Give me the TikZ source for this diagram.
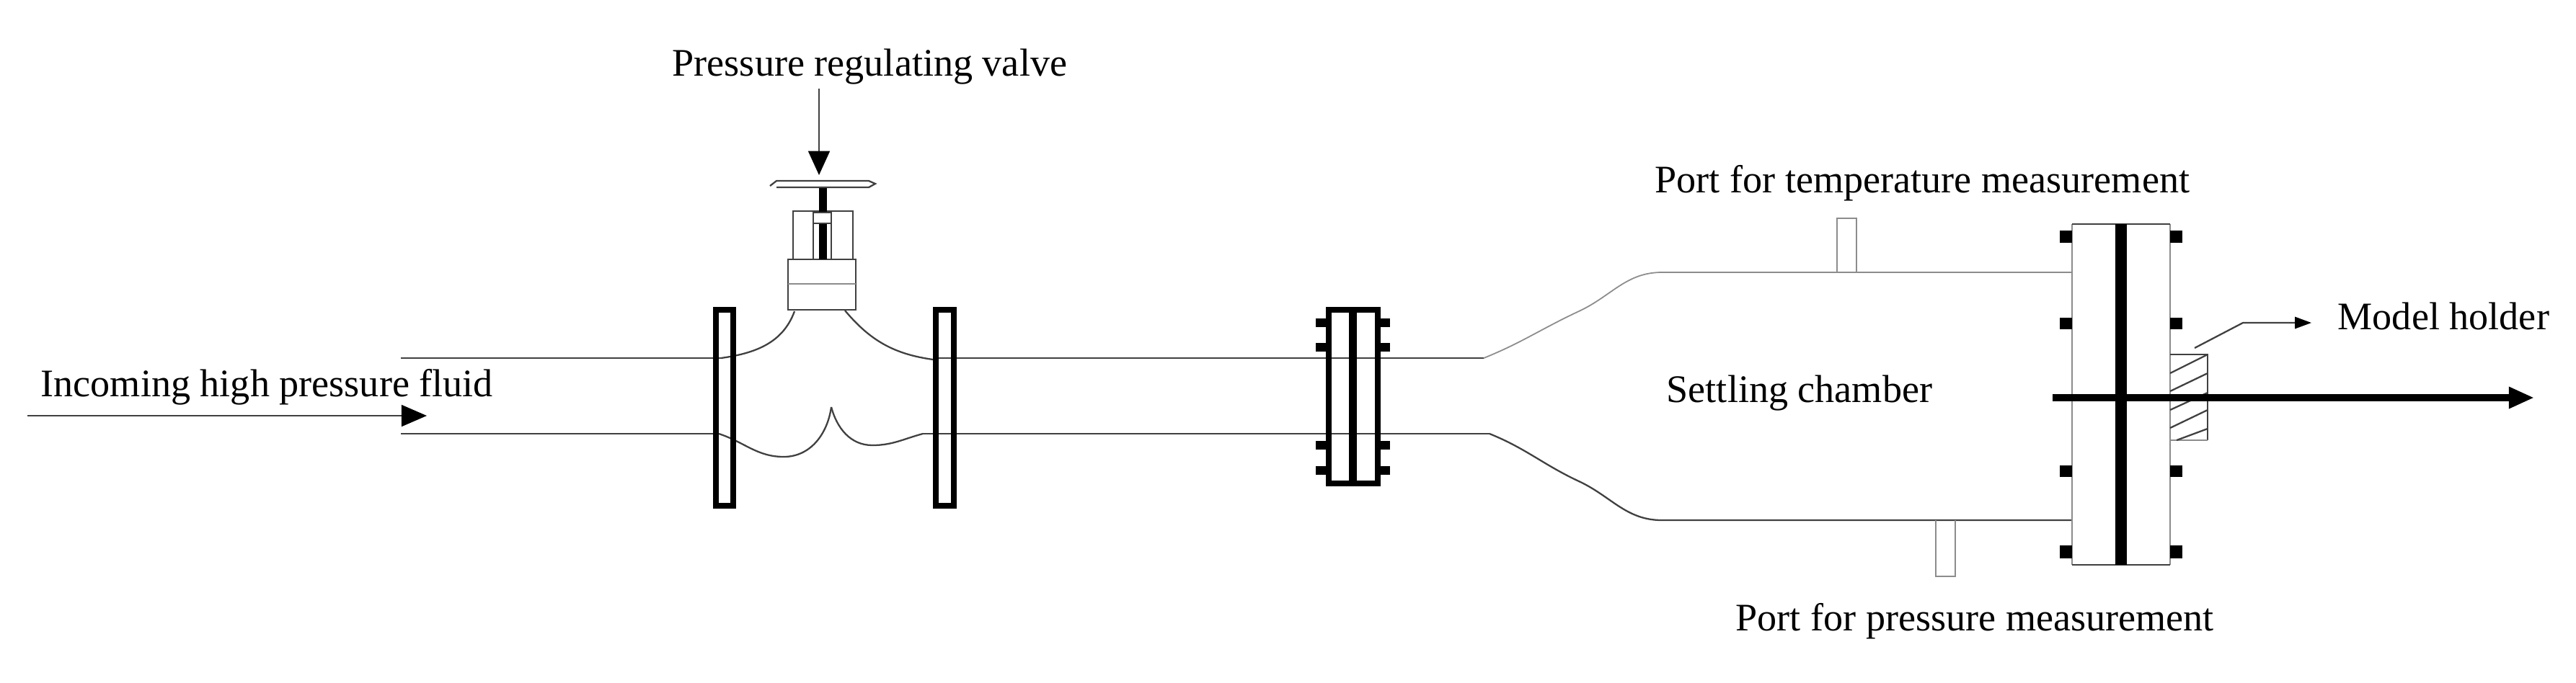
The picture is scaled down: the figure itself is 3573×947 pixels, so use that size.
\documentclass[tikz,border=0pt]{standalone}
\usepackage{fontspec}
\setmainfont{Liberation Serif}
\usetikzlibrary{arrows.meta}

\tikzset{
	pipeline/.style={line width=0.65pt, black!75},
	lightline/.style={line width=0.5pt, black!45},
	flangebar/.style={line width=2.3pt, black},
	thinarrow/.style={line width=0.65pt, black!75, -{Triangle[length=9.5pt,width=8.5pt,black]}},
	textlabel/.style={inner sep=0pt, anchor=base west, font=\fontsize{15.4}{18}\selectfont},
}

\begin{document}
\begin{tikzpicture}[x=0.01cm,y=-0.01cm]

	\useasboundingbox (0,0) rectangle (3573,947);

	% Tubo de entrada
	\draw[pipeline] (556,497) -- (1000,497);
	\draw[pipeline] (556,602) -- (997,602);
	\draw[pipeline] (1294,497) -- (2058,497);
	\draw[pipeline] (1280,602) -- (2066,602);

	% Corpo da valvula
	\draw[pipeline] (1000,497) to[out=8,in=250] (1102,432);
	\draw[pipeline] (1172,431) to[out=-50,in=172] (1294,499);
	\draw[pipeline] (997,602) to[out=-18,in=180] (1087,634)
	to[out=0,in=262] (1153,565);
	\draw[pipeline] (1153,565) to[out=-75,in=180] (1210,618)
	to[out=0,in=195] (1280,602);

	% Flanges da valvula
	\draw[flangebar] (993,430) rectangle (1017,702);
	\draw[flangebar] (1298,430) rectangle (1323,702);

	% Castelo da valvula
	\draw[pipeline] (1093,360) rectangle (1187,430);
	\draw[lightline] (1093,394) -- (1187,394);
	\draw[pipeline] (1100,293) rectangle (1183,360);
	\draw[pipeline] (1128,293) -- (1128,360);
	\draw[pipeline] (1153,293) -- (1153,360);

	% Haste e volante
	\fill (1136,260) rectangle (1147,360);
	\draw[pipeline, fill=white] (1128,295) rectangle (1153,310);
	\draw[pipeline] (1068,258) -- (1077,251) -- (1205,251) -- (1214,255) -- (1205,260) -- (1077,260);

	% Seta da valvula
	\node[textlabel] (valvelabel) at (932,105) {Pressure regulating valve};
	\coordinate (valvefrom) at (1136,123);
	\coordinate (valveto) at (1136,243);
	\draw[thinarrow] (valvefrom) -- (valveto);

	% Flange do meio
	\draw[flangebar] (1843,430) rectangle (1911,671);
	\fill (1871,430) rectangle (1882,671);
	\fill (1825,442) rectangle (1839,454);
	\fill (1825,476) rectangle (1839,488);
	\fill (1825,612) rectangle (1839,624);
	\fill (1825,647) rectangle (1839,659);
	\fill (1915,442) rectangle (1928,454);
	\fill (1915,476) rectangle (1928,488);
	\fill (1915,612) rectangle (1928,624);
	\fill (1915,647) rectangle (1928,659);

	% Camara de estabilizacao
	\draw[lightline] (2058,497) to[out=22,in=205] (2190,432)
	to[out=25,in=180] (2305,378) -- (2874,378);
	\draw[pipeline] (2066,602) to[out=-22,in=155] (2190,668)
	to[out=-25,in=180] (2305,722) -- (2874,722);
	\node[textlabel] (chamberlabel) at (2311,558) {Settling chamber};

	% Tomadas de temperatura e pressao
	\draw[lightline] (2548,378) -- (2548,303) -- (2575,303) -- (2575,378);
	\draw[lightline] (2685,722) -- (2685,800) -- (2712,800) -- (2712,722);
	\node[textlabel] (templabel) at (2295,267) {Port for temperature measurement};
	\node[textlabel] (presslabel) at (2407,875) {Port for pressure measurement};

	% Flange da camara
	\draw[lightline] (2874,311) -- (2874,784);
	\draw[lightline] (3010,311) -- (3010,784);
	\draw[pipeline] (2874,311) -- (3010,311);
	\draw[pipeline] (2874,784) -- (3010,784);
	\fill (2934,311) rectangle (2950,784);
	\fill (2857,320) rectangle (2874,337);
	\fill (2857,441) rectangle (2874,457);
	\fill (2857,646) rectangle (2874,662);
	\fill (2857,757) rectangle (2874,775);
	\fill (3010,320) rectangle (3027,337);
	\fill (3010,441) rectangle (3027,457);
	\fill (3010,646) rectangle (3027,662);
	\fill (3010,757) rectangle (3027,775);

	% Suporte do modelo
	\draw[pipeline] (3010,492) -- (3062,492) -- (3062,611);
	\draw[lightline] (3010,611) -- (3062,611);
	\draw[pipeline] (3010,518) -- (3062,492);
	\draw[pipeline] (3010,543) -- (3062,518);
	\draw[pipeline] (3010,569) -- (3062,545);
	\draw[pipeline] (3010,594) -- (3062,569);
	\draw[pipeline] (3019,611) -- (3062,595);

	% Eixo central
	\coordinate (shaftfrom) at (2847,552);
	\coordinate (shaftto) at (3515,552);
	\draw[line width=2.9pt, -{Triangle[length=10pt,width=8pt]}] (shaftfrom) -- (shaftto);

	% Indicacao do suporte
	\node[textlabel] (holderlabel) at (3242,457) {Model holder};
	\coordinate (holderfrom) at (3044,483);
	\coordinate (holderbend) at (3111,448);
	\coordinate (holderto) at (3206,448);
	\draw[line width=0.65pt, black!75, -{Triangle[length=6.5pt,width=4.6pt,black]}] (holderfrom) -- (holderbend) -- (holderto);

	% Seta de entrada
	\node[textlabel] (inletlabel) at (56,550) {Incoming high pressure fluid};
	\coordinate (inletfrom) at (38,577);
	\coordinate (inletto) at (592,577);
	\draw[line width=0.65pt, black!75, -{Triangle[length=10pt,width=8.5pt,black]}] (inletfrom) -- (inletto);

\end{tikzpicture}
\end{document}
